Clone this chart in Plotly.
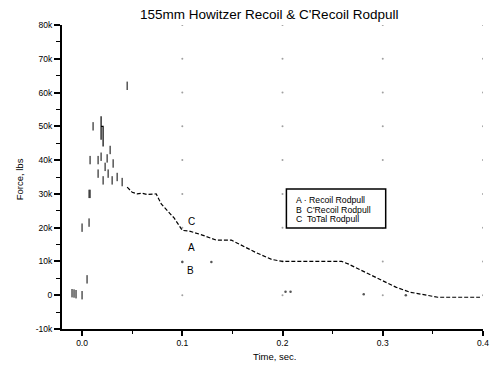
import plotly.graph_objects as go

# ---- data ----
# smooth part of total rodpull (curve C)
c_time = [0.045, 0.050, 0.055, 0.060, 0.065, 0.070, 0.074, 0.079, 0.087, 0.092, 0.100,
          0.107, 0.120, 0.134, 0.149, 0.159, 0.173, 0.189, 0.200, 0.243, 0.259, 0.266,
          0.282, 0.298, 0.313, 0.327, 0.340, 0.355, 0.374, 0.397]
c_force = [32000, 30500, 30000, 30200, 29800, 30000, 30000, 27000, 24500, 22800, 19200,
           19000, 17800, 16300, 16300, 14800, 12700, 10600, 10000, 10000, 10000, 9200,
           6800, 4400, 2400, 900, 300, -600, -600, -600]

# noisy early part (short strokes)
early_time = [-0.010, -0.008, -0.006, 0.000, 0.005, 0.000, 0.007, 0.007, 0.008, 0.008,
              0.011, 0.016, 0.016, 0.019, 0.021, 0.023, 0.025, 0.026, 0.028, 0.030,
              0.031, 0.035, 0.040, 0.045]
early_force = [600, 500, 300, 0, 4700, 20000, 21500, 30000, 30000, 40000,
               50000, 40000, 36000, 41000, 34000, 38000, 40500, 36000, 43000, 34000,
               39000, 35000, 33500, 62000]

# peak spikes
spike_time = [0.019, 0.019, None, 0.019, 0.021, 0.021]
spike_force = [53000, 46000, None, 50000, 50000, 44000]

# stray dots
stray_time = [0.100, 0.129, 0.203, 0.208, 0.281, 0.323]
stray_force = [9800, 9800, 1000, 1000, 300, 0]

x_ticks = [0.0, 0.1, 0.2, 0.3, 0.4]
x_labels = ["0.0", "0.1", "0.2", "0.3", "0.4"]
y_ticks = [-10000, 0, 10000, 20000, 30000, 40000, 50000, 60000, 70000, 80000]
y_labels = ["-10k", "0", "10k", "20k", "30k", "40k", "50k", "60k", "70k", "80k"]

curve_labels = ["C", "A", "B"]
curve_label_time = [0.109, 0.109, 0.108]
curve_label_force = [21900, 14200, 7400]

legend_lines = ["A · Recoil Rodpull", "B  C'Recoil Rodpull", "C  ToTal Rodpull"]

FONT = "Liberation Sans, Arial, sans-serif"
L, T, W_PLOT, H_PLOT = 62, 25, 424, 304


def px(x):
    return (x - L) / W_PLOT


def py(y):
    return (T + H_PLOT - y) / H_PLOT


fig = go.Figure()

# faint grid dots at major intersections
gx, gy = [], []
for xv in x_ticks[1:]:
    for yv in y_ticks[1:]:
        gx.append(xv)
        gy.append(yv)
fig.add_trace(go.Scatter(x=gx, y=gy, mode="markers",
                         marker=dict(size=2, color="#a0a0a0"), hoverinfo="skip"))

fig.add_trace(go.Scatter(x=c_time, y=c_force, mode="lines",
                         line=dict(color="black", width=1.2, dash="4px,2px")))
fig.add_trace(go.Scatter(x=early_time, y=early_force, mode="markers",
                         marker=dict(symbol="line-ns", size=6,
                                     line=dict(color="black", width=1))))
fig.add_trace(go.Scatter(x=spike_time, y=spike_force, mode="lines",
                         line=dict(color="black", width=1.2)))
fig.add_trace(go.Scatter(x=stray_time, y=stray_force, mode="markers",
                         marker=dict(size=2.5, color="#555555")))

for lab, tx, fy in zip(curve_labels, curve_label_time, curve_label_force):
    fig.add_annotation(x=tx, y=fy, text=lab, showarrow=False,
                       font=dict(family=FONT, size=10, color="black"))

# legend box
fig.add_shape(type="rect", xref="paper", yref="paper",
              x0=px(288), x1=px(388), y0=py(228), y1=py(189),
              line=dict(color="black", width=1.5), fillcolor="white")
for i, line in enumerate(legend_lines):
    fig.add_annotation(xref="paper", yref="paper", x=px(296), y=py(200 + 9.7 * i),
                       xanchor="left", yanchor="middle", text=line, showarrow=False,
                       font=dict(family=FONT, size=8.7, color="black"))

fig.add_annotation(xref="paper", yref="paper", x=px(270), y=py(15),
                   xanchor="center", yanchor="middle",
                   text="155mm Howitzer Recoil & C'Recoil Rodpull", showarrow=False,
                   font=dict(family=FONT, size=13.5, color="black"))
fig.add_annotation(xref="paper", yref="paper", x=px(276), y=py(356),
                   xanchor="center", yanchor="middle",
                   text="Time, sec.", showarrow=False,
                   font=dict(family=FONT, size=9.5, color="black"))
fig.add_annotation(xref="paper", yref="paper", x=px(19), y=py(179),
                   xanchor="center", yanchor="middle", textangle=-90,
                   text="Force, lbs", showarrow=False,
                   font=dict(family=FONT, size=9.5, color="black"))

fig.update_xaxes(range=[-0.02, 0.4], tickvals=x_ticks, ticktext=x_labels,
                 showgrid=False, zeroline=False, showline=True, linecolor="black",
                 linewidth=2, ticks="outside", ticklen=5, tickwidth=1.5,
                 tickcolor="black",
                 minor=dict(dtick=0.05, tick0=0, ticks="outside", ticklen=3,
                            tickwidth=1.3, tickcolor="black"),
                 tickfont=dict(family=FONT, size=8.5, color="black"))
fig.update_yaxes(range=[-10000, 80000], tickvals=y_ticks, ticktext=y_labels,
                 showgrid=False, zeroline=False, showline=True, linecolor="black",
                 linewidth=2, ticks="outside", ticklen=6, tickwidth=1.5,
                 tickcolor="black",
                 minor=dict(dtick=5000, tick0=0, ticks="outside", ticklen=4,
                            tickwidth=1.3, tickcolor="black"),
                 tickfont=dict(family=FONT, size=8.5, color="black"))

fig.update_layout(width=501, height=365, showlegend=False,
                  margin=dict(l=L, r=501 - L - W_PLOT, t=T, b=365 - T - H_PLOT),
                  plot_bgcolor="white", paper_bgcolor="white")

fig.write_html("out.html", config={"displayModeBar": False},
               post_script="document.body.style.margin='0';document.body.style.overflow='hidden';")
